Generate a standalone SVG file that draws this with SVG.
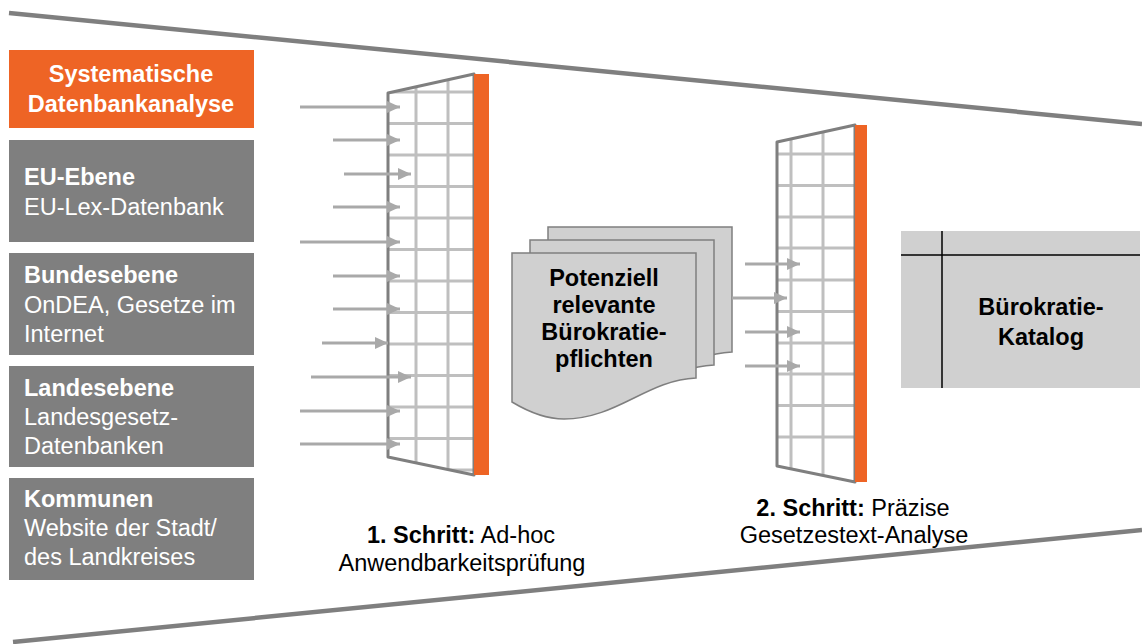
<svg xmlns="http://www.w3.org/2000/svg" width="1142" height="644" viewBox="0 0 1142 644">
<style>
  text { font-family: "Liberation Sans", Arial, sans-serif; font-size: 23.5px; }
  .b { font-weight: bold; }
  .w { fill: #ffffff; }
  .k { fill: #000000; }
  .src { fill: #7f7f7f; }
  .grid { stroke: #bfbfbf; stroke-width: 3; fill: none; }
  .frame { fill: none; stroke: #7f7f7f; stroke-width: 3; stroke-linejoin: round; }
  .bar { fill: #ee6425; }
  .arr { stroke: #a9a9a9; stroke-width: 3; fill: none; marker-end: url(#ah); }
  .page { fill: #d0d0d0; stroke: #7f7f7f; stroke-width: 1.5; }
  .funnel { stroke: #7f7f7f; stroke-width: 4.5; fill: none; }
</style>
<defs>
  <marker id="ah" markerUnits="userSpaceOnUse" markerWidth="14" markerHeight="12" refX="13" refY="6" orient="auto">
    <path d="M0,0 L13,6 L0,12 Z" fill="#a9a9a9"/>
  </marker>
  <clipPath id="c1"><polygon points="388,93 474,74 474,475 388,457"/></clipPath>
  <clipPath id="c2"><polygon points="777,142 855,125 855,482 777,466"/></clipPath>
  <path id="doc" d="M0,0 H184 V125 C135,127 105,166 52,166 C32,166 15,158 0,149 Z"/>
</defs>

<g id="funnel">
  <line class="funnel" x1="9" y1="13" x2="1142" y2="124"/>
  <line class="funnel" x1="13" y1="642" x2="1142" y2="530"/>
</g>

<g id="source-header">
  <rect x="9" y="50" width="245" height="78" fill="#ee6425"/>
  <text class="b w" x="131" y="82" text-anchor="middle">Systematische</text>
  <text class="b w" x="131" y="112" text-anchor="middle">Datenbankanalyse</text>
</g>
<g id="eu">
  <rect class="src" x="9" y="140" width="245" height="102"/>
  <text class="b w" x="24" y="185">EU-Ebene</text>
  <text class="w" x="24" y="215">EU-Lex-Datenbank</text>
</g>
<g id="bund">
  <rect class="src" x="9" y="253" width="245" height="102"/>
  <text class="b w" x="24" y="283">Bundesebene</text>
  <text class="w" x="24" y="313">OnDEA, Gesetze im</text>
  <text class="w" x="24" y="342">Internet</text>
</g>
<g id="land">
  <rect class="src" x="9" y="366" width="245" height="101"/>
  <text class="b w" x="24" y="396">Landesebene</text>
  <text class="w" x="24" y="425">Landesgesetz-</text>
  <text class="w" x="24" y="454">Datenbanken</text>
</g>
<g id="kommunen">
  <rect class="src" x="9" y="478" width="245" height="102"/>
  <text class="b w" x="24" y="507">Kommunen</text>
  <text class="w" x="24" y="536">Website der Stadt/</text>
  <text class="w" x="24" y="565">des Landkreises</text>
</g>

<g id="filter1">
  <polygon points="388,93 474,74 474,475 388,457" fill="#ffffff"/>
  <g clip-path="url(#c1)" class="grid">
    <path d="M416,60 V490 M448,60 V490"/>
    <path d="M380,92 H480 M380,123.5 H480 M380,155 H480 M380,186.5 H480 M380,218 H480 M380,249.5 H480 M380,281 H480 M380,312.5 H480 M380,344 H480 M380,375.5 H480 M380,407 H480 M380,438.5 H480 M380,470 H480"/>
  </g>
  <polygon class="frame" points="388,93 474,74 474,475 388,457"/>
  <rect class="bar" x="474" y="74" width="15" height="401"/>
  <text x="461" y="543" text-anchor="middle"><tspan class="b">1. Schritt:</tspan> Ad-hoc</text>
  <text x="462" y="571" text-anchor="middle">Anwendbarkeitsprüfung</text>
</g>

<g id="documents">
  <use href="#doc" class="page" x="548" y="227"/>
  <use href="#doc" class="page" x="530" y="240"/>
  <use href="#doc" class="page" x="512" y="253"/>
  <text class="b" x="604" y="286" text-anchor="middle">Potenziell</text>
  <text class="b" x="604" y="313" text-anchor="middle">relevante</text>
  <text class="b" x="604" y="340" text-anchor="middle">Bürokratie-</text>
  <text class="b" x="604" y="367" text-anchor="middle">pflichten</text>
</g>

<g id="filter2">
  <polygon points="777,142 855,125 855,482 777,466" fill="#ffffff"/>
  <g clip-path="url(#c2)" class="grid">
    <path d="M791,110 V490 M823,110 V490"/>
    <path d="M770,154 H860 M770,185.5 H860 M770,217 H860 M770,248 H860 M770,280 H860 M770,311.5 H860 M770,343 H860 M770,374 H860 M770,405.5 H860 M770,437 H860"/>
  </g>
  <polygon class="frame" points="777,142 855,125 855,482 777,466"/>
  <rect class="bar" x="855" y="125" width="12" height="357"/>
  <text x="853" y="516" text-anchor="middle"><tspan class="b">2. Schritt:</tspan> Präzise</text>
  <text x="854" y="543" text-anchor="middle">Gesetzestext-Analyse</text>
</g>

<g id="catalog">
  <rect x="901" y="231" width="239" height="157" fill="#d0d0d0"/>
  <line x1="942" y1="231" x2="942" y2="388" stroke="#000" stroke-width="1.5"/>
  <line x1="901" y1="255" x2="1140" y2="255" stroke="#000" stroke-width="1.5"/>
  <text class="b" x="1041" y="315" text-anchor="middle">Bürokratie-</text>
  <text class="b" x="1041" y="345" text-anchor="middle">Katalog</text>
</g>

<g id="connectors">
  <line class="arr" x1="300" y1="107" x2="400" y2="107"/>
  <line class="arr" x1="333" y1="140" x2="400" y2="140"/>
  <line class="arr" x1="344" y1="174" x2="411" y2="174"/>
  <line class="arr" x1="333" y1="207" x2="400" y2="207"/>
  <line class="arr" x1="300" y1="242" x2="400" y2="242"/>
  <line class="arr" x1="333" y1="276" x2="400" y2="276"/>
  <line class="arr" x1="333" y1="309" x2="400" y2="309"/>
  <line class="arr" x1="322" y1="343" x2="388" y2="343"/>
  <line class="arr" x1="311" y1="377" x2="411" y2="377"/>
  <line class="arr" x1="300" y1="411" x2="400" y2="411"/>
  <line class="arr" x1="300" y1="444" x2="400" y2="444"/>
  <line class="arr" x1="745" y1="264" x2="800" y2="264"/>
  <line class="arr" x1="732" y1="298" x2="787" y2="298"/>
  <line class="arr" x1="745" y1="332" x2="800" y2="332"/>
  <line class="arr" x1="745" y1="366" x2="800" y2="366"/>
</g>
</svg>
